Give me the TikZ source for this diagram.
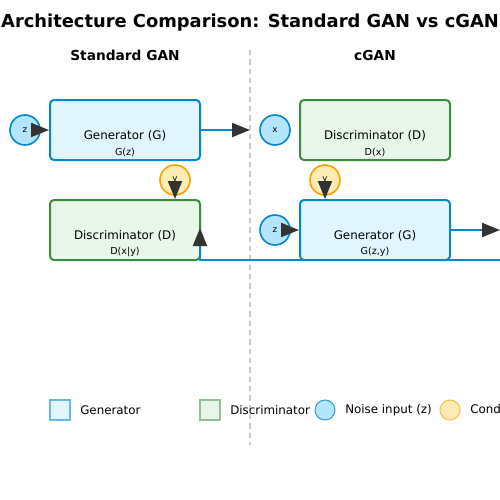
\documentclass[tikz,border=0pt]{standalone}
\usepackage{fontspec}
\setmainfont{DejaVu Sans}
\usepackage{tikz}
\usetikzlibrary{arrows.meta,positioning}

\definecolor{genfill}{HTML}{E1F5FE}
\definecolor{gendraw}{HTML}{0288D1}
\definecolor{discfill}{HTML}{E8F5E9}
\definecolor{discdraw}{HTML}{388E3C}
\definecolor{noisefill}{HTML}{B3E5FC}
\definecolor{condfill}{HTML}{FFECB3}
\definecolor{conddraw}{HTML}{FFA000}
\definecolor{headgray}{HTML}{333333}

\begin{document}
\begin{tikzpicture}
    [
      x=0.75pt, y=-0.75pt,
      gen/.style={draw=gendraw,fill=genfill,line width=1.5pt,rounded corners=3pt,minimum width=112.5pt,minimum height=45pt,inner sep=0pt},
      disc/.style={draw=discdraw,fill=discfill,line width=1.5pt,rounded corners=3pt,minimum width=112.5pt,minimum height=45pt,inner sep=0pt},
      noise/.style={circle,draw=gendraw,fill=noisefill,line width=1.2pt,minimum size=22.5pt,inner sep=0pt,font=\fontsize{6.5}{7}\selectfont},
      cond/.style={circle,draw=conddraw,fill=condfill,line width=1.2pt,minimum size=22.5pt,inner sep=0pt,font=\fontsize{6.5}{7}\selectfont},
      boxtitle/.style={font=\fontsize{8.9}{10}\selectfont,inner sep=0pt},
      boxsub/.style={font=\fontsize{7.2}{8}\selectfont,inner sep=0pt},
      legtext/.style={anchor=west,font=\fontsize{8.9}{10}\selectfont,inner sep=0pt},
      post/.style={-{Triangle[length=13.5pt,width=10.5pt,color=headgray]},draw=headgray,line width=1.5pt},
      flow/.style={-{Triangle[length=13.5pt,width=10.5pt,color=headgray]},draw=gendraw,line width=1.5pt},
    ]

    \useasboundingbox (0,0) rectangle (500,500);

    \node (title) [font=\bfseries\fontsize{13.4}{15}\selectfont] at (250,23) {Architecture Comparison: Standard GAN vs cGAN};
    \node (head-std) [font=\bfseries\fontsize{10.3}{12}\selectfont] at (125,55) {Standard GAN};
    \node (head-cg) [font=\bfseries\fontsize{10.3}{12}\selectfont] at (375,55) {cGAN};

    \draw [black!20, line width=1pt, dash pattern=on 4pt off 3pt] (250,50) -- (250,445);

    % standard GAN
    \node (gen-std) [gen] at (125,130) {};
    \node (gen-std-t) [boxtitle] at (125,136) {Generator (G)};
    \node (gen-std-s) [boxsub] at (125,152) {G(z)};
    \node (z-std) [noise] at (25,130) {z};
    \node (disc-std) [disc] at (125,230) {};
    \node (disc-std-t) [boxtitle] at (125,236) {Discriminator (D)};
    \node (disc-std-s) [boxsub] at (125,252) {D(x|y)};
    \node (y-std) [cond] at (175,180) {y};
    \coordinate (out-std) at (250,130);

    % cGAN
    \node (x-cg) [noise] at (275,130) {x};
    \node (disc-cg) [disc] at (375,130) {};
    \node (disc-cg-t) [boxtitle] at (375,136) {Discriminator (D)};
    \node (disc-cg-s) [boxsub] at (375,152) {D(x)};
    \node (y-cg) [cond] at (325,180) {y};
    \node (z-cg) [noise] at (275,230) {z};
    \node (gen-cg) [gen] at (375,230) {};
    \node (gen-cg-t) [boxtitle] at (375,236) {Generator (G)};
    \node (gen-cg-s) [boxsub] at (375,252) {G(z,y)};
    \coordinate (out-cg) at (500,230);
    \coordinate (fb-start) at (500,260);
    \coordinate (fb-corner) at (200,260);
    \coordinate (fb-tip) at (200,228);

    \path
    (z-std) edge [post] (gen-std)
    (y-std) edge [post] (y-std |- disc-std.north)
    (gen-std.east) edge [flow] (out-std)

    (z-cg) edge [post] (gen-cg)
    (y-cg) edge [post] (y-cg |- gen-cg.north)
    (gen-cg.east) edge [flow] (out-cg)
    ;

    \draw [flow] (fb-start) -- (fb-corner) -- (fb-tip);

    % legend
    \node (leg-gen) [draw=gendraw!60,fill=genfill,line width=1pt,minimum size=15pt,inner sep=0pt] at (60,410) {};
    \node (leg-gen-t) [legtext] at (80,410) {Generator};
    \node (leg-disc) [draw=discdraw!55,fill=discfill,line width=1pt,minimum size=15pt,inner sep=0pt] at (210,410) {};
    \node (leg-disc-t) [legtext] at (230,410) {Discriminator};
    \node (leg-noise) [circle,draw=gendraw!80,fill=noisefill,line width=0.8pt,minimum size=15pt,inner sep=0pt] at (325,410) {};
    \node (leg-noise-t) [legtext] at (345,410) {Noise input (z)};
    \node (leg-cond) [circle,draw=conddraw!70,fill=condfill,line width=0.8pt,minimum size=15pt,inner sep=0pt] at (450,410) {};
    \node (leg-cond-t) [legtext] at (470,410) {Condition (y)};

  \end{tikzpicture}
\end{document}
